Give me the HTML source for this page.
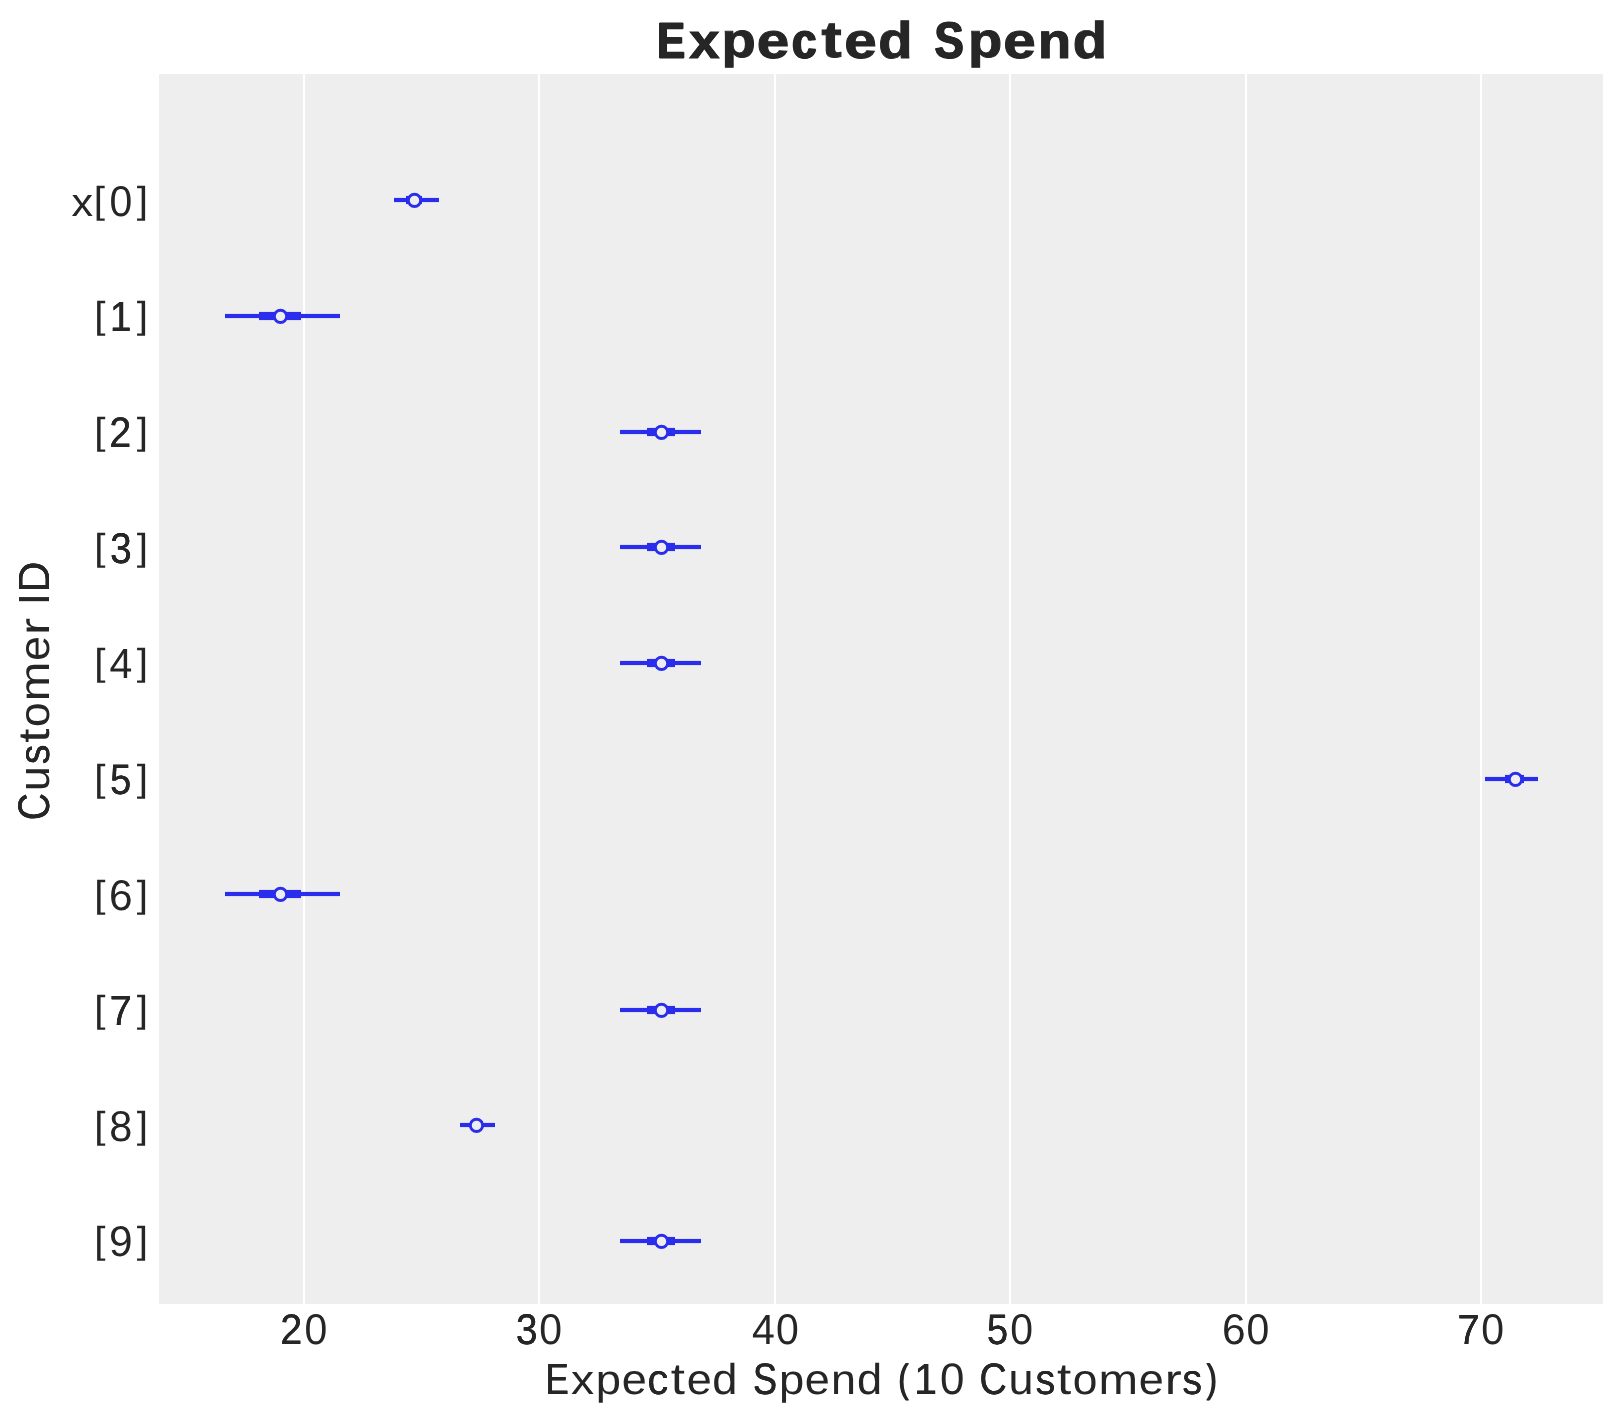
<!DOCTYPE html>
<html lang="en">
<head>
<meta charset="utf-8">
<title>Expected Spend</title>
<style>
html,body{margin:0;padding:0;background:#ffffff;}
body{width:1623px;height:1423px;position:relative;overflow:hidden;font-family:"Liberation Sans",sans-serif;color:#262626;}
#chart{position:absolute;left:0;top:0;}
#labels{position:absolute;left:0;top:0;width:1623px;height:1423px;will-change:transform;}
.tx{position:absolute;left:0;top:0;white-space:pre;text-rendering:geometricPrecision;font-family:"Liberation Sans",sans-serif;color:#262626;}
.tx span{position:absolute;display:block;transform-origin:0 0;white-space:pre;}
.b{font-weight:700;-webkit-text-stroke:1px #262626;}
.rot{transform-origin:0 0;transform:rotate(-90deg);}
</style>
</head>
<body>
<svg id="chart" width="1623" height="1423" viewBox="0 0 1623 1423" shape-rendering="geometricPrecision">
<rect x="159" y="74" width="1444" height="1230" fill="#eeeeee"/>
<g fill="#ffffff">
<rect x="302.9" y="74" width="2.2" height="1230"/>
<rect x="537.9" y="74" width="2.2" height="1230"/>
<rect x="773.9" y="74" width="2.2" height="1230"/>
<rect x="1008.9" y="74" width="2.2" height="1230"/>
<rect x="1244.9" y="74" width="2.2" height="1230"/>
<rect x="1479.9" y="74" width="2.2" height="1230"/>
</g>
<g fill="#2a2eec">
<rect x="394" y="197.92" width="45" height="4.16"/><rect x="406" y="195.92" width="16" height="8.16"/>
<rect x="225" y="313.92" width="115" height="4.16"/><rect x="259" y="311.92" width="42" height="8.16"/>
<rect x="620" y="429.92" width="81" height="4.16"/><rect x="647" y="427.92" width="28" height="8.16"/>
<rect x="620" y="544.92" width="81" height="4.16"/><rect x="647" y="542.92" width="28" height="8.16"/>
<rect x="620" y="660.92" width="81" height="4.16"/><rect x="647" y="658.92" width="28" height="8.16"/>
<rect x="1485" y="776.92" width="53" height="4.16"/><rect x="1505" y="774.92" width="19" height="8.16"/>
<rect x="225" y="891.92" width="115" height="4.16"/><rect x="259" y="889.92" width="42" height="8.16"/>
<rect x="620" y="1007.92" width="81" height="4.16"/><rect x="647" y="1005.92" width="28" height="8.16"/>
<rect x="460" y="1122.92" width="35" height="4.16"/><rect x="470" y="1120.92" width="13" height="8.16"/>
<rect x="620" y="1238.92" width="81" height="4.16"/><rect x="647" y="1236.92" width="28" height="8.16"/>
</g>
<g fill="#eeeeee" stroke="#2a2eec" stroke-width="2.9">
<circle cx="414.5" cy="200.4" r="6.15"/>
<circle cx="280.5" cy="316.4" r="6.15"/>
<circle cx="661.5" cy="432.4" r="6.15"/>
<circle cx="661.5" cy="547.4" r="6.15"/>
<circle cx="661.5" cy="663.4" r="6.15"/>
<circle cx="1515.5" cy="779.4" r="6.15"/>
<circle cx="280.5" cy="894.4" r="6.15"/>
<circle cx="661.5" cy="1010.4" r="6.15"/>
<circle cx="476.5" cy="1125.4" r="6.15"/>
<circle cx="661.5" cy="1241.4" r="6.15"/>
</g>
</svg>
<div id="labels">
<div class="tx b" style="font-size:52px;line-height:52px;"><span style="left:657px;top:15px;transform:translate(0.26px,0.42px) scale(0.7988,0.9789);text-shadow:1.13px 0 0 #262626,-1.13px 0 0 #262626;">E</span><span style="left:689px;top:16px;transform:translate(0.33px,0.75px) scale(1.0451,0.9483);text-shadow:0.11px 0 0 #262626,-0.11px 0 0 #262626;">x</span><span style="left:721px;top:16px;transform:translate(0.60px,0.61px) scale(1.0788,0.9411);">p</span><span style="left:756px;top:16px;transform:translate(0.77px,0.17px) scale(1.1239,0.9665);">e</span><span style="left:792px;top:16px;transform:translate(0.01px,0.17px) scale(0.8475,0.9665);text-shadow:1.06px 0 0 #262626,-1.06px 0 0 #262626;">c</span><span style="left:821px;top:14px;transform:translate(0.49px,0.89px) scale(1.1600,0.9807);">t</span><span style="left:844px;top:16px;transform:translate(0.23px,0.17px) scale(1.1239,0.9665);">e</span><span style="left:878px;top:15px;transform:translate(0.19px,0.24px) scale(1.0788,0.9876);">d</span><span> </span><span style="left:934px;top:15px;transform:translate(0.56px,0.06px) scale(0.8384,0.9916);text-shadow:1.07px 0 0 #262626,-1.07px 0 0 #262626;">S</span><span style="left:967px;top:16px;transform:translate(0.96px,0.61px) scale(1.0788,0.9411);">p</span><span style="left:1003px;top:16px;transform:translate(0.14px,0.17px) scale(1.1239,0.9665);">e</span><span style="left:1037px;top:16px;transform:translate(0.89px,0.31px) scale(1.0430,0.9584);text-shadow:0.12px 0 0 #262626,-0.12px 0 0 #262626;">n</span><span style="left:1072px;top:15px;transform:translate(0.70px,0.24px) scale(1.0788,0.9876);">d</span></div>
<div class="tx " style="font-size:44px;line-height:44px;"><span style="left:545px;top:1358px;transform:translate(0.63px,0.32px) scale(0.7832,0.9910);text-shadow:0.57px 0 0 #262626,-0.57px 0 0 #262626;">E</span><span style="left:570px;top:1359px;transform:translate(0.93px,0.93px) scale(1.0506,0.9464);">x</span><span style="left:595px;top:1359px;transform:translate(0.77px,0.45px) scale(1.0303,0.9517);">p</span><span style="left:621px;top:1359px;transform:translate(0.75px,0.24px) scale(1.0229,0.9707);">e</span><span style="left:647px;top:1359px;transform:translate(0.57px,0.24px) scale(0.9457,0.9707);text-shadow:0.05px 0 0 #262626,-0.05px 0 0 #262626;">c</span><span style="left:670px;top:1357px;transform:translate(0.85px,0.57px) scale(1.1600,1.0023);">t</span><span style="left:686px;top:1359px;transform:translate(0.63px,0.24px) scale(1.0229,0.9707);">e</span><span style="left:712px;top:1358px;transform:translate(0.28px,0.86px) scale(1.0293,0.9810);">d</span><span> </span><span style="left:753px;top:1357px;transform:translate(0.08px,1.00px) scale(0.8138,1.0047);text-shadow:0.47px 0 0 #262626,-0.47px 0 0 #262626;">S</span><span style="left:778px;top:1359px;transform:translate(0.89px,0.45px) scale(1.0303,0.9517);">p</span><span style="left:804px;top:1359px;transform:translate(0.87px,0.24px) scale(1.0229,0.9707);">e</span><span style="left:830px;top:1359px;transform:translate(0.92px,0.33px) scale(1.0211,0.9630);">n</span><span style="left:856px;top:1358px;transform:translate(0.92px,0.86px) scale(1.0293,0.9810);">d</span><span> </span><span style="left:898px;top:1359px;transform:translate(0.33px,0.21px) scale(0.7178,0.9021);text-shadow:0.67px 0 0 #262626,-0.67px 0 0 #262626;">(</span><span style="left:914px;top:1358px;transform:translate(0.03px,0.32px) scale(0.9402,0.9910);text-shadow:0.13px 0 0 #262626,-0.13px 0 0 #262626;">1</span><span style="left:940px;top:1357px;transform:translate(0.03px,1.00px) scale(0.9975,1.0047);">0</span><span> </span><span style="left:979px;top:1357px;transform:translate(0.47px,1.00px) scale(0.8580,1.0047);text-shadow:0.34px 0 0 #262626,-0.34px 0 0 #262626;">C</span><span style="left:1008px;top:1358px;transform:translate(0.47px,0.59px) scale(1.0211,0.9884);">u</span><span style="left:1035px;top:1359px;transform:translate(0.57px,0.14px) scale(0.8926,0.9733);text-shadow:0.16px 0 0 #262626,-0.16px 0 0 #262626;">s</span><span style="left:1056px;top:1357px;transform:translate(0.91px,0.57px) scale(1.1600,1.0023);">t</span><span style="left:1072px;top:1359px;transform:translate(0.74px,0.24px) scale(1.0068,0.9707);">o</span><span style="left:1098px;top:1359px;transform:translate(0.43px,0.33px) scale(1.0790,0.9630);">m</span><span style="left:1138px;top:1359px;transform:translate(0.78px,0.24px) scale(1.0229,0.9707);">e</span><span style="left:1164px;top:1359px;transform:translate(0.71px,0.33px) scale(1.1600,0.9630);">r</span><span style="left:1182px;top:1359px;transform:translate(0.47px,0.14px) scale(0.8926,0.9733);text-shadow:0.16px 0 0 #262626,-0.16px 0 0 #262626;">s</span><span style="left:1206px;top:1359px;transform:translate(0.50px,0.21px) scale(0.7178,0.9021);text-shadow:0.67px 0 0 #262626,-0.67px 0 0 #262626;">)</span></div>
<div class="tx rot" style="font-size:44px;line-height:44px;left:49px;top:821px;"><span style="left:0px;top:-37px;transform:translate(0.72px,1.00px) scale(0.8580,1.0047);text-shadow:0.34px 0 0 #262626,-0.34px 0 0 #262626;">C</span><span style="left:29px;top:-36px;transform:translate(0.72px,0.59px) scale(1.0211,0.9884);">u</span><span style="left:56px;top:-35px;transform:translate(0.82px,0.14px) scale(0.8926,0.9733);text-shadow:0.16px 0 0 #262626,-0.16px 0 0 #262626;">s</span><span style="left:78px;top:-37px;transform:translate(0.16px,0.57px) scale(1.1600,1.0023);">t</span><span style="left:93px;top:-35px;transform:translate(0.99px,0.24px) scale(1.0068,0.9707);">o</span><span style="left:119px;top:-35px;transform:translate(0.68px,0.33px) scale(1.0790,0.9630);">m</span><span style="left:160px;top:-35px;transform:translate(0.03px,0.24px) scale(1.0229,0.9707);">e</span><span style="left:185px;top:-35px;transform:translate(0.97px,0.33px) scale(1.1600,0.9630);">r</span><span> </span><span style="left:215px;top:-36px;transform:translate(0.68px,0.32px) scale(1.0016,0.9910);">I</span><span style="left:228px;top:-36px;transform:translate(0.56px,0.32px) scale(0.9758,0.9910);text-shadow:0.05px 0 0 #262626,-0.05px 0 0 #262626;">D</span></div>
<div class="tx " style="font-size:41px;line-height:41px;"><span style="left:71px;top:183px;transform:translate(0.48px,0.04px) scale(1.0522,0.9695);">x</span><span style="left:93px;top:182px;transform:translate(0.76px,0.07px) scale(0.9882,0.9158);">[</span><span style="left:109px;top:180px;transform:translate(0.45px,0.57px) scale(0.9991,1.0473);">0</span><span style="left:136px;top:182px;transform:translate(0.68px,0.07px) scale(0.9882,0.9158);">]</span></div>
<div class="tx " style="font-size:41px;line-height:41px;"><span style="left:94px;top:297px;transform:translate(0.31px,0.07px) scale(0.9882,0.9158);">[</span><span style="left:109px;top:296px;transform:translate(0.93px,0.04px) scale(0.9417,1.0281);text-shadow:0.12px 0 0 #262626,-0.12px 0 0 #262626;">1</span><span style="left:136px;top:297px;transform:translate(0.68px,0.07px) scale(0.9882,0.9158);">]</span></div>
<div class="tx " style="font-size:41px;line-height:41px;"><span style="left:94px;top:413px;transform:translate(0.31px,0.07px) scale(0.9882,0.9158);">[</span><span style="left:109px;top:411px;transform:translate(0.45px,0.61px) scale(0.9537,1.0409);text-shadow:0.10px 0 0 #262626,-0.10px 0 0 #262626;">2</span><span style="left:136px;top:413px;transform:translate(0.68px,0.07px) scale(0.9882,0.9158);">]</span></div>
<div class="tx " style="font-size:41px;line-height:41px;"><span style="left:94px;top:529px;transform:translate(0.31px,0.07px) scale(0.9882,0.9158);">[</span><span style="left:110px;top:527px;transform:translate(0.06px,0.57px) scale(0.9498,1.0473);text-shadow:0.11px 0 0 #262626,-0.11px 0 0 #262626;">3</span><span style="left:136px;top:529px;transform:translate(0.68px,0.07px) scale(0.9882,0.9158);">]</span></div>
<div class="tx " style="font-size:41px;line-height:41px;"><span style="left:94px;top:644px;transform:translate(0.31px,0.07px) scale(0.9882,0.9158);">[</span><span style="left:109px;top:643px;transform:translate(0.44px,0.04px) scale(0.9993,1.0281);">4</span><span style="left:136px;top:644px;transform:translate(0.68px,0.07px) scale(0.9882,0.9158);">]</span></div>
<div class="tx " style="font-size:41px;line-height:41px;"><span style="left:94px;top:760px;transform:translate(0.31px,0.07px) scale(0.9882,0.9158);">[</span><span style="left:110px;top:759px;transform:translate(0.09px,0.01px) scale(0.9291,1.0347);text-shadow:0.15px 0 0 #262626,-0.15px 0 0 #262626;">5</span><span style="left:136px;top:760px;transform:translate(0.68px,0.07px) scale(0.9882,0.9158);">]</span></div>
<div class="tx " style="font-size:41px;line-height:41px;"><span style="left:94px;top:876px;transform:translate(0.31px,0.07px) scale(0.9882,0.9158);">[</span><span style="left:109px;top:874px;transform:translate(0.04px,0.57px) scale(1.0349,1.0473);">6</span><span style="left:136px;top:876px;transform:translate(0.68px,0.07px) scale(0.9882,0.9158);">]</span></div>
<div class="tx " style="font-size:41px;line-height:41px;"><span style="left:94px;top:991px;transform:translate(0.31px,0.07px) scale(0.9882,0.9158);">[</span><span style="left:109px;top:990px;transform:translate(0.68px,0.04px) scale(0.9716,1.0281);text-shadow:0.06px 0 0 #262626,-0.06px 0 0 #262626;">7</span><span style="left:136px;top:991px;transform:translate(0.68px,0.07px) scale(0.9882,0.9158);">]</span></div>
<div class="tx " style="font-size:41px;line-height:41px;"><span style="left:94px;top:1107px;transform:translate(0.31px,0.07px) scale(0.9882,0.9158);">[</span><span style="left:109px;top:1105px;transform:translate(0.32px,0.57px) scale(1.0107,1.0473);">8</span><span style="left:136px;top:1107px;transform:translate(0.68px,0.07px) scale(0.9882,0.9158);">]</span></div>
<div class="tx " style="font-size:41px;line-height:41px;"><span style="left:94px;top:1222px;transform:translate(0.31px,0.07px) scale(0.9882,0.9158);">[</span><span style="left:108px;top:1220px;transform:translate(0.94px,0.57px) scale(1.0328,1.0473);">9</span><span style="left:136px;top:1222px;transform:translate(0.68px,0.07px) scale(0.9882,0.9158);">]</span></div>
<div class="tx " style="font-size:41px;line-height:41px;"><span style="left:280px;top:1308px;transform:translate(0.41px,0.61px) scale(0.9537,1.0409);text-shadow:0.10px 0 0 #262626,-0.10px 0 0 #262626;">2</span><span style="left:304px;top:1308px;transform:translate(0.42px,0.57px) scale(0.9991,1.0473);">0</span></div>
<div class="tx " style="font-size:41px;line-height:41px;"><span style="left:515px;top:1308px;transform:translate(0.96px,0.57px) scale(0.9498,1.0473);text-shadow:0.11px 0 0 #262626,-0.11px 0 0 #262626;">3</span><span style="left:539px;top:1308px;transform:translate(0.36px,0.57px) scale(0.9991,1.0473);">0</span></div>
<div class="tx " style="font-size:41px;line-height:41px;"><span style="left:751px;top:1309px;transform:translate(0.91px,0.04px) scale(0.9993,1.0281);">4</span><span style="left:775px;top:1308px;transform:translate(0.89px,0.57px) scale(0.9991,1.0473);">0</span></div>
<div class="tx " style="font-size:41px;line-height:41px;"><span style="left:986px;top:1309px;transform:translate(0.97px,0.01px) scale(0.9291,1.0347);text-shadow:0.15px 0 0 #262626,-0.15px 0 0 #262626;">5</span><span style="left:1010px;top:1308px;transform:translate(0.34px,0.57px) scale(0.9991,1.0473);">0</span></div>
<div class="tx " style="font-size:41px;line-height:41px;"><span style="left:1222px;top:1308px;transform:translate(0.07px,0.57px) scale(1.0349,1.0473);">6</span><span style="left:1246px;top:1308px;transform:translate(0.48px,0.57px) scale(0.9991,1.0473);">0</span></div>
<div class="tx " style="font-size:41px;line-height:41px;"><span style="left:1457px;top:1309px;transform:translate(0.46px,0.04px) scale(0.9716,1.0281);text-shadow:0.06px 0 0 #262626,-0.06px 0 0 #262626;">7</span><span style="left:1481px;top:1308px;transform:translate(0.25px,0.57px) scale(0.9991,1.0473);">0</span></div>
</div>
</body>
</html>
